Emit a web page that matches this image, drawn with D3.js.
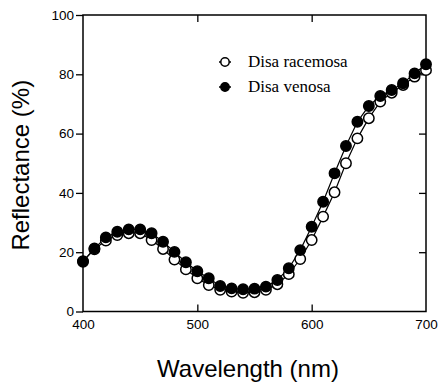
<!DOCTYPE html>
<html>
<head>
<meta charset="utf-8">
<script src="https://cdn.jsdelivr.net/npm/d3@7"></script>
<style>
  html, body { margin: 0; padding: 0; background: #fff; }
  svg { display: block; }
</style>
</head>
<body>
<svg id="chart" width="440" height="383"></svg>
<script>
// Wavelengths sampled every 10 nm
const wavelengths = [400,410,420,430,440,450,460,470,480,490,500,510,520,530,540,550,560,570,580,590,600,610,620,630,640,650,660,670,680,690,700];

// Reflectance (%) of each species
const racemosa = [17.0,21.0,23.9,25.8,26.4,26.4,24.1,21.1,17.5,14.2,11.2,8.9,7.3,6.7,6.3,6.5,7.3,9.2,12.6,17.7,24.1,32.0,40.2,50.0,58.4,65.2,70.8,73.8,76.4,79.2,81.4];
const venosa   = [16.8,21.3,25.0,26.9,27.7,27.7,26.4,23.5,20.1,16.6,13.6,11.2,8.6,7.8,7.5,7.7,8.4,10.6,14.6,20.7,28.6,37.0,46.6,55.8,64.0,69.3,72.7,74.7,77.0,80.3,83.4];

const seriesNames = ["Disa racemosa", "Disa venosa"];
const xTicks = [400, 500, 600, 700];
const yTicks = [0, 20, 40, 60, 80, 100];

const svg = d3.select("#chart");
const plotLeft = 83, plotRight = 426, plotTop = 15, plotBottom = 311.5;

const x = d3.scaleLinear().domain([400, 700]).range([plotLeft, plotRight]);
const y = d3.scaleLinear().domain([0, 100]).range([plotBottom, plotTop]);

const sans = "'Liberation Sans', Arial, Helvetica, sans-serif";
const serif = "'Liberation Serif', 'Times New Roman', serif";

// Frame
svg.append("rect")
  .attr("x", plotLeft).attr("y", plotTop)
  .attr("width", plotRight - plotLeft).attr("height", plotBottom - plotTop)
  .attr("fill", "none").attr("stroke", "#000").attr("stroke-width", 1.5);

// Left axis: outward ticks with labels
const yAxis = d3.axisLeft(y).tickValues(yTicks).tickSize(7).tickPadding(2).tickFormat(d3.format("d"));
const gy = svg.append("g").attr("transform", `translate(${plotLeft},0)`).call(yAxis);
gy.select(".domain").remove();
gy.selectAll("line").attr("stroke-width", 1.3);
gy.selectAll("text").attr("font-family", sans).attr("font-size", 13.5).attr("fill", "#000");

// Right axis: inward ticks only
const gyr = svg.append("g").attr("transform", `translate(${plotRight},0)`)
  .call(d3.axisLeft(y).tickValues(yTicks.slice(1, -1)).tickSize(7).tickFormat(""));
gyr.select(".domain").remove();
gyr.selectAll("line").attr("stroke-width", 1.3);

// Bottom axis: labels under every tick value, inward ticks at interior values
const gx = svg.append("g").attr("transform", `translate(0,${plotBottom})`)
  .call(d3.axisBottom(x).tickValues(xTicks).tickSize(0).tickPadding(8).tickFormat(d3.format("d")));
gx.select(".domain").remove();
gx.selectAll("text").attr("font-family", sans).attr("font-size", 13.5).attr("fill", "#000");
svg.append("g").attr("transform", `translate(0,${plotBottom})`)
  .call(d3.axisTop(x).tickValues(xTicks.slice(1, -1)).tickSize(7).tickFormat(""))
  .call(g => g.select(".domain").remove())
  .selectAll("line").attr("stroke-width", 1.3);

// Top axis: inward ticks
svg.append("g").attr("transform", `translate(0,${plotTop})`)
  .call(d3.axisBottom(x).tickValues(xTicks.slice(1, -1)).tickSize(7).tickFormat(""))
  .call(g => g.select(".domain").remove())
  .selectAll("line").attr("stroke-width", 1.3);

// Axis titles
svg.append("text")
  .attr("transform", `translate(29,${(plotTop + plotBottom) / 2 + 2}) rotate(-90)`)
  .attr("text-anchor", "middle")
  .attr("font-family", sans).attr("font-size", 24)
  .text("Reflectance (%)");

svg.append("text")
  .attr("x", 248).attr("y", 377)
  .attr("text-anchor", "middle")
  .attr("font-family", sans).attr("font-size", 24)
  .text("Wavelength (nm)");

// Series
const line = d3.line().x((d, i) => x(wavelengths[i])).y(d => y(d));
const series = [
  { name: seriesNames[0], values: racemosa, fill: "#fff" },
  { name: seriesNames[1], values: venosa, fill: "#000" }
];

series.forEach(s => {
  svg.append("path").datum(s.values)
    .attr("d", line).attr("fill", "none").attr("stroke", "#000").attr("stroke-width", 1.2);
});
series.forEach(s => {
  svg.append("g").selectAll("circle").data(s.values).join("circle")
    .attr("cx", (d, i) => x(wavelengths[i])).attr("cy", d => y(d))
    .attr("r", 5.2)
    .attr("fill", s.fill).attr("stroke", "#000").attr("stroke-width", 1.5);
});

// Legend
const legend = svg.append("g");
series.forEach((s, i) => {
  const cy = 62 + i * 25;
  legend.append("line").attr("x1", 219).attr("x2", 231).attr("y1", cy).attr("y2", cy)
    .attr("stroke", "#000").attr("stroke-width", 1.5);
  legend.append("circle").attr("cx", 225).attr("cy", cy).attr("r", 4.2)
    .attr("fill", s.fill).attr("stroke", "#000").attr("stroke-width", 1.5);
  legend.append("text").attr("x", 248).attr("y", cy + 5)
    .attr("font-family", serif).attr("font-size", 17).attr("fill", "#000")
    .text(s.name);
});
</script>
</body>
</html>
